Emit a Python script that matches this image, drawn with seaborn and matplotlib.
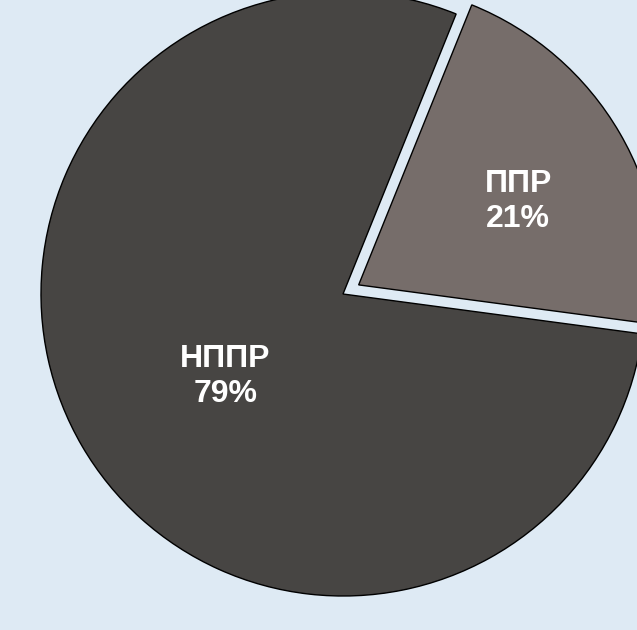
import numpy as np
import matplotlib
matplotlib.use("Agg")
import matplotlib.pyplot as plt
import seaborn as sns

# данные
categories = ["НППР", "ППР"]
shares = [79, 21]
slice_colors = ["#474543", "#766d6a"]
explode = [0, 0.06]
label_dist = [0.47, 0.60]
label_turn = [4.0, -2.0]

sns.set_theme(style="white")
plt.rcParams['font.family'] = ['Liberation Sans', 'DejaVu Sans']

bg = "#deeaf4"
fig = plt.figure(figsize=(6.37, 6.30), dpi=100, facecolor=bg)
ax = fig.add_axes([0, 0, 1, 1])
ax.set_facecolor(bg)

wedges, _ = ax.pie(shares, colors=slice_colors, explode=explode, startangle=68,
                   counterclock=True, radius=1,
                   wedgeprops=dict(edgecolor="black", linewidth=1.0))

# подписи внутри секторов
for w, name, val, d, t in zip(wedges, categories, shares, label_dist, label_turn):
    mid = np.deg2rad((w.theta1 + w.theta2) / 2 + t)
    cx, cy = w.center
    ax.text(cx + d * np.cos(mid), cy + d * np.sin(mid) - 0.008, f"{name}\n{val}%",
            ha="center", va="center", color="white", fontsize=23,
            fontweight="bold", linespacing=1.22)

r = 302
ax.set_aspect("auto")
ax.set_xlim(-343 / r, (637 - 343) / r)
ax.set_ylim(-(630 - 294) / r, 294 / r)
ax.axis("off")

fig.savefig("out.png", dpi=100, facecolor=bg)
